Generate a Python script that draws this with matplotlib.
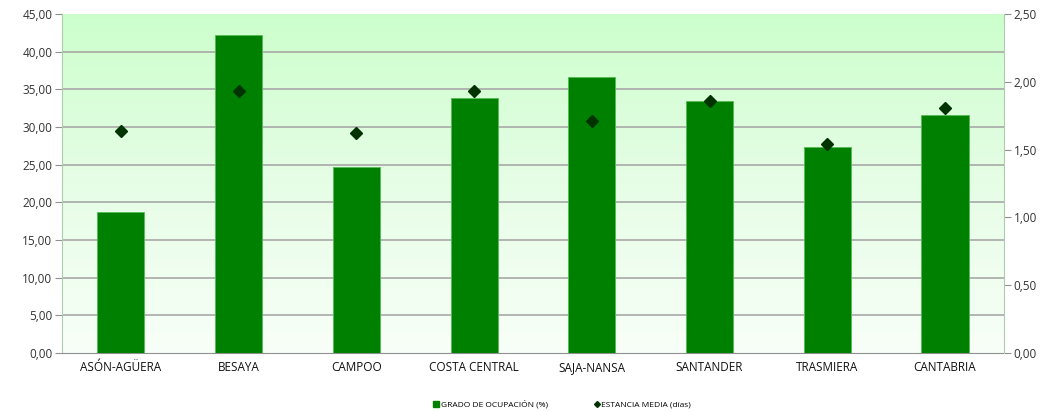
"""Grado de ocupación y estancia media por comarca (Cantabria)."""

import numpy as np
import matplotlib
matplotlib.use('Agg')
import matplotlib.pyplot as plt
from matplotlib.colors import LinearSegmentedColormap

comarcas = ["ASÓN-AGÜERA", "BESAYA", "CAMPOO", "COSTA CENTRAL",
            "SAJA-NANSA", "SANTANDER", "TRASMIERA", "CANTABRIA"]
ocupacion = [18.72, 42.20, 24.70, 33.85, 36.70, 33.45, 27.35, 31.60]
estancia = [1.64, 1.93, 1.62, 1.93, 1.71, 1.86, 1.54, 1.81]

left_ticks = np.arange(0, 45.01, 5)
right_ticks = np.arange(0, 2.501, 0.5)


def coma(v, dec=2):
    return f"{v:.{dec}f}".replace(".", ",")


def main():
    plt.rcParams['font.family'] = ['Open Sans', 'DejaVu Sans']
    fig = plt.figure(figsize=(10.6, 4.12), dpi=100)
    ax = fig.add_axes([0.0585, 0.143, 0.8885, 0.823])
    ax2 = ax.twinx()

    # fondo degradado
    cmap = LinearSegmentedColormap.from_list("bg", ["#f8fff8", "#e6fde6", "#ccffcc"])
    grad = np.linspace(0, 1, 256).reshape(-1, 1)
    ax.imshow(grad, extent=[0, 1, 0, 1], transform=ax.transAxes, origin="lower",
              aspect="auto", cmap=cmap, zorder=0)

    # rejilla solo en las líneas interiores
    for v in left_ticks[1:-1]:
        ax.axhline(v, color="#a8a8a8", linewidth=1.2, zorder=1)

    x = np.arange(len(comarcas))
    ax.bar(x, ocupacion, width=0.4, color="#008000", edgecolor="#55bb55",
           linewidth=0.6, zorder=3)
    ax2.plot(x, estancia, linestyle="none", marker="D", markersize=6,
             color="#003300", zorder=4)

    ax.set_xlim(-0.5, len(comarcas) - 0.5)
    ax.set_ylim(0, 45)
    ax2.set_ylim(0, 2.5)
    ax.set_yticks(left_ticks)
    ax.set_yticklabels([coma(v) for v in left_ticks])
    ax2.set_yticks(right_ticks)
    ax2.set_yticklabels([coma(v) for v in right_ticks])
    ax.set_xticks(x)
    ax.set_xticklabels(comarcas)

    for a in (ax, ax2):
        for s in a.spines.values():
            s.set_visible(False)
    ax.spines["left"].set_visible(True)
    ax.spines["left"].set_color("#b0ccb0")
    ax.spines["bottom"].set_visible(True)
    ax.spines["bottom"].set_color("#909090")
    ax2.spines["right"].set_visible(True)
    ax2.spines["right"].set_color("#b0ccb0")

    ax.tick_params(axis="y", length=5, color="#909090", labelsize=8.5,
                   labelcolor="#333333", pad=2)
    ax.tick_params(axis="x", length=0, labelsize=8.5, labelcolor="#111111", pad=6)
    ax2.tick_params(axis="y", length=5, color="#909090", labelsize=8.5,
                    labelcolor="#333333", pad=2)

    h1 = plt.Line2D([], [], linestyle="none", marker="s", markersize=4, color="#008000")
    h2 = plt.Line2D([], [], linestyle="none", marker="D", markersize=3, color="#003300")
    fig.legend([h1, h2], ["GRADO DE OCUPACIÓN (%)", "ESTANCIA MEDIA (días)"],
               loc="center", bbox_to_anchor=(0.53, 0.018), ncol=2, frameon=False,
               fontsize=6, handletextpad=0.1, columnspacing=5.5, handlelength=0.8)

    fig.savefig("out.png", dpi=100)
    plt.close(fig)


if __name__ == "__main__":
    main()
